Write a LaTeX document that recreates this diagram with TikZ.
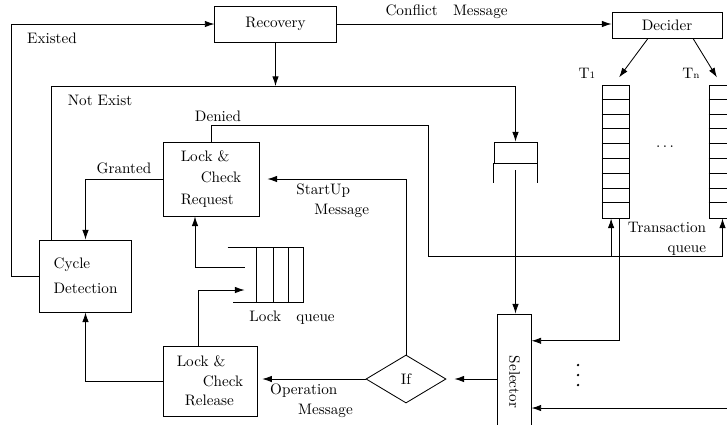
\documentclass[tikz,border=0pt]{standalone}
\usetikzlibrary{arrows.meta, shapes.geometric}

\begin{document}
\begin{tikzpicture}[x=0.025cm, y=-0.025cm, semithick,
    font=\fontsize{10.8}{14}\selectfont, >={Latex[length=2.4mm,width=1.6mm]}]
        \useasboundingbox (0,0) rectangle (727,424);

        % process boxes
        \node[draw, minimum width=3.03cm, minimum height=0.9cm] (recovery) at (275.5,24) {Recovery};
        \node[draw, minimum width=2.75cm, minimum height=0.65cm] (decider) at (667,25) {Decider};
        \node[draw, minimum width=2.4cm, minimum height=1.85cm, align=left] (lockreq) at (211,179) {Lock \&\\[1pt]\hspace*{0.5cm}Check\\[1pt]Request};
        \node[draw, minimum width=2.35cm, minimum height=1.75cm, align=left] (lockrel) at (210,381) {Lock \&\\\hspace*{0.65cm}Check\\\hspace*{0.2cm}Release};
        \node[draw, minimum width=2.28cm, minimum height=1.8cm, align=left] (cycle) at (85.5,276) {Cycle\\[4pt]Detection};
        \node[draw, diamond, minimum width=2cm, minimum height=1.2cm, inner sep=1pt] (ifnode) at (406,379) {If};
        \node[draw, minimum width=0.83cm, minimum height=3.4cm, label={[rotate=-90]center:Selector}] (selector) at (514.5,382) {};

        % transaction queues
        \node[draw, minimum width=0.675cm, minimum height=3.325cm] (tone) at (615.5,151.5) {};
        \node[draw, minimum width=0.675cm, minimum height=3.325cm] (tn) at (722.5,151.5) {};
        \foreach \q in {tone,tn}
            \foreach \i in {1,...,8}
                \draw (\q.north west) ++(0,\i*14.78) -- ++(27,0);
        \node at (587,73) {T{\scriptsize 1}};
        \node at (691,73) {T{\scriptsize n}};
        \node at (665,147) {$\cdots$};
        \node[align=right] at (667,239) {Transaction\\queue};

        % lock queue (open on the left)
        \node[minimum width=1.875cm, minimum height=1.35cm] (lockq) at (265.5,275) {};
        \draw (lockq.north west) -- (lockq.north east) -- (lockq.south east) -- ([xshift=0.125cm]lockq.south west);
        \foreach \x in {29,46,61}
            \draw ([xshift=\x*0.025cm]lockq.north west) -- ([xshift=\x*0.025cm]lockq.south west);
        \node at (292,318) {Lock\quad queue};

        % buffer in front of the selector
        \node[draw, minimum width=1.075cm, minimum height=0.525cm] (buffer) at (515.5,152.5) {};
        \draw (buffer.south west) -- ++(0,20);
        \draw (buffer.south east) -- ++(0,20);
        \coordinate (bufout) at (515.5,170);

        % helper points
        \coordinate (notex) at (515.5,86);
        \coordinate (tqbus) at (428,256);
        \coordinate (tonein) at ([xshift=-0.11cm]tone.south);
        \coordinate (toneout) at ([xshift=0.11cm]tone.south);
        \coordinate (rightin) at (735,408);

        % recovery and decider
        \draw[->] (cycle.west) -- ++(-28,0) |- (recovery.west);
        \node at (52,38) {Existed};
        \draw[->] (recovery.east) -- node[above, pos=0.4] {Conflict\quad Message} (recovery.east -| decider.west);
        \draw[->] ([xshift=-0.475cm]decider.south) -- ([xshift=0.09cm,yshift=0.18cm]tone.north);
        \draw[->] ([xshift=0.65cm]decider.south) -- ([xshift=-0.14cm,yshift=0.18cm]tn.north);
        \draw[->] (recovery.south) -- (recovery.south |- notex);
        \draw[->] ([xshift=0.3cm]cycle.north west) |- (notex) -- (buffer.north);
        \node at (100,100) {Not Exist};

        % lock manager
        \draw (lockreq.north) -- ++(0,-16) -| (tqbus) -- (tqbus -| tn.south);
        \node at (218,116) {Denied};
        \draw[->] (tonein |- tqbus) -- (tonein);
        \draw[->] (tn.south |- tqbus) -- (tn.south);
        \draw[->] (lockreq.west) -| node[above, pos=0.25] {Granted} (cycle.north);
        \draw[->] (lockrel.west) -| (cycle.south);
        \draw[->] ([xshift=-0.3cm]lockrel.north) |- ([xshift=0.425cm,yshift=-0.375cm]lockq.west);
        \draw[->] ([xshift=0.425cm,yshift=0.2cm]lockq.west) -| ([xshift=-0.4cm]lockreq.south);

        % selector and messages
        \draw[->] (bufout) -- (bufout |- selector.north);
        \draw[->] (toneout) |- ([yshift=1.03cm]selector.east);
        \draw[->] (rightin) -- (rightin -| selector.east);
        \foreach \y in {365,375,385}
            \fill (578,\y) circle (0.9pt);
        \draw[->, shorten >=0.2cm] (selector.west |- ifnode) -- (ifnode.east);
        \draw[->, shorten >=0.12cm] (ifnode.west) -- node[below, align=left] {Operation\\\hspace*{0.7cm}Message} (ifnode.west -| lockrel.east);
        \draw[->, shorten >=0.2cm] (ifnode.north) |- node[below, pos=0.75, align=left] {StartUp\\\hspace*{0.45cm}Message} (lockreq.east);
\end{tikzpicture}
\end{document}
